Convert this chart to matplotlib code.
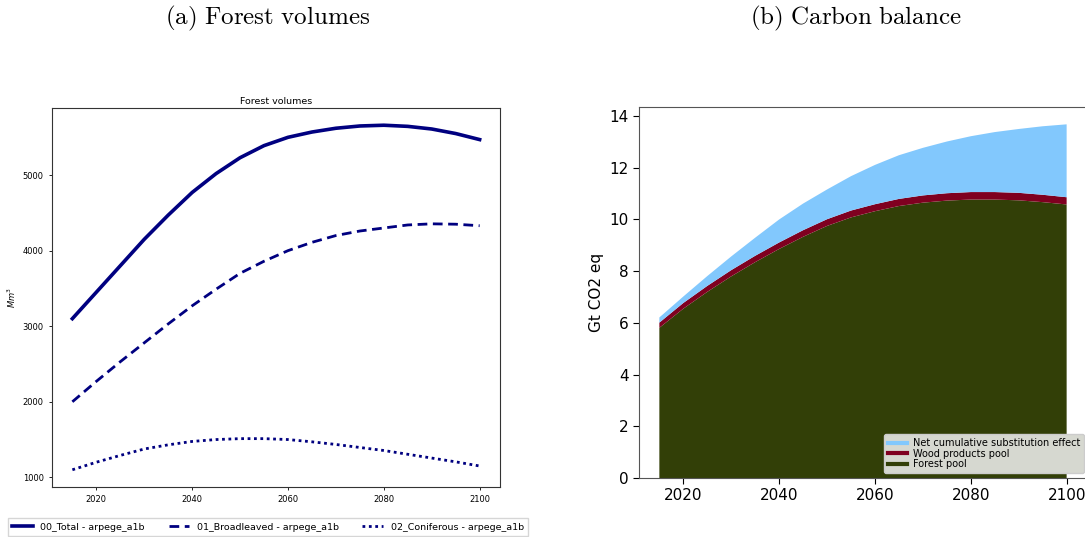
import matplotlib
matplotlib.use("Agg")
import matplotlib.pyplot as plt
from matplotlib.lines import Line2D

plt.rcParams['mathtext.fontset'] = 'cm'

# --- data -------------------------------------------------------------
years = [2015, 2020, 2025, 2030, 2035, 2040, 2045, 2050, 2055,
         2060, 2065, 2070, 2075, 2080, 2085, 2090, 2095, 2100]

vol_total = [3100, 3450, 3800, 4150, 4470, 4770, 5020, 5230, 5390,
             5500, 5570, 5620, 5650, 5660, 5645, 5610, 5550, 5470]
vol_broadleaved = [2000, 2270, 2530, 2780, 3030, 3270, 3490, 3700, 3860,
                   4000, 4110, 4200, 4260, 4300, 4340, 4355, 4350, 4330]
vol_coniferous = [1100, 1200, 1290, 1375, 1430, 1475, 1500, 1512, 1512,
                  1500, 1470, 1435, 1395, 1355, 1305, 1255, 1205, 1150]
vol_labels = ["00_Total - arpege_a1b", "01_Broadleaved - arpege_a1b",
              "02_Coniferous - arpege_a1b"]

forest_pool = [5.81, 6.55, 7.20, 7.80, 8.35, 8.86, 9.33, 9.75, 10.08,
               10.32, 10.52, 10.65, 10.73, 10.77, 10.77, 10.74, 10.67, 10.58]
wood_pool = [0.20, 0.22, 0.23, 0.24, 0.245, 0.25, 0.255, 0.26, 0.265,
             0.27, 0.275, 0.28, 0.285, 0.29, 0.29, 0.29, 0.285, 0.28]
substitution = [0.20, 0.25, 0.38, 0.53, 0.70, 0.89, 1.03, 1.15, 1.33,
                1.52, 1.69, 1.84, 2.00, 2.16, 2.32, 2.47, 2.65, 2.82]
carbon_labels = ["Forest pool", "Wood products pool",
                 "Net cumulative substitution effect"]
carbon_colors = ["#323f07", "#7f0020", "#82c8fd"]

W, H = 1085, 537
fig = plt.figure(figsize=(W / 100, H / 100), dpi=100)


def box(x0, y0, x1, y1):
    return [x0 / W, 1 - y1 / H, (x1 - x0) / W, (y1 - y0) / H]


# --- (a) forest volumes ----------------------------------------------
ax1 = fig.add_axes(box(52, 108, 500, 487))
navy = "#000080"
h1, = ax1.plot(years, vol_total, color=navy, lw=2.6, ls="-")
h2, = ax1.plot(years, vol_broadleaved, color=navy, lw=2.0, ls=(0, (3.5, 2)))
h3, = ax1.plot(years, vol_coniferous, color=navy, lw=2.0, ls=(0, (1, 1.3)))
ax1.set_title("Forest volumes", fontsize=6.8, pad=3)
ax1.set_ylabel("$Mm^3$", fontsize=6, labelpad=3, math_fontfamily="dejavusans")
ax1.set_xticks([2020, 2040, 2060, 2080, 2100])
ax1.set_yticks([1000, 2000, 3000, 4000, 5000])
ax1.tick_params(labelsize=6, length=2.5, width=0.6)
for s in ax1.spines.values():
    s.set_linewidth(0.8)
    s.set_color("#333333")

fig.legend([h1, h2, h3], vol_labels, loc="center",
           bbox_to_anchor=(268 / W, 1 - 527 / H), ncol=3, fontsize=6.8,
           frameon=True, fancybox=False, edgecolor="#cccccc",
           handlelength=2.2, columnspacing=2.5, borderpad=0.45)

# --- (b) carbon balance ----------------------------------------------
ax2 = fig.add_axes(box(639, 107, 1087, 478))
ax2.stackplot(years, forest_pool, wood_pool, substitution,
              colors=carbon_colors, labels=carbon_labels)
ax2.set_ylim(0, 14.35)
ax2.set_xticks([2020, 2040, 2060, 2080, 2100])
ax2.set_yticks([0, 2, 4, 6, 8, 10, 12, 14])
ax2.set_ylabel("Gt CO2 eq", fontsize=11)
ax2.tick_params(labelsize=11, length=4)
for s in ax2.spines.values():
    s.set_color("#555555")

handles = [Line2D([], [], color=c, lw=3) for c in carbon_colors[::-1]]
ax2.legend(handles, carbon_labels[::-1], loc="lower right", fontsize=7,
           labelspacing=0.05, handlelength=2.0, borderpad=0.4,
           handletextpad=0.6, facecolor="#d6d8d0", framealpha=1,
           edgecolor="#cccccc", fancybox=True, bbox_to_anchor=(1.005, 0.0))

# --- sub captions -----------------------------------------------------
fig.text(268 / W, 1 - 18 / H, r"$\mathrm{(a)\ Forest\ volumes}$",
         ha="center", va="center", fontsize=18)
fig.text(856 / W, 1 - 18 / H, r"$\mathrm{(b)\ Carbon\ balance}$",
         ha="center", va="center", fontsize=18)

fig.savefig("out.png", dpi=100)
